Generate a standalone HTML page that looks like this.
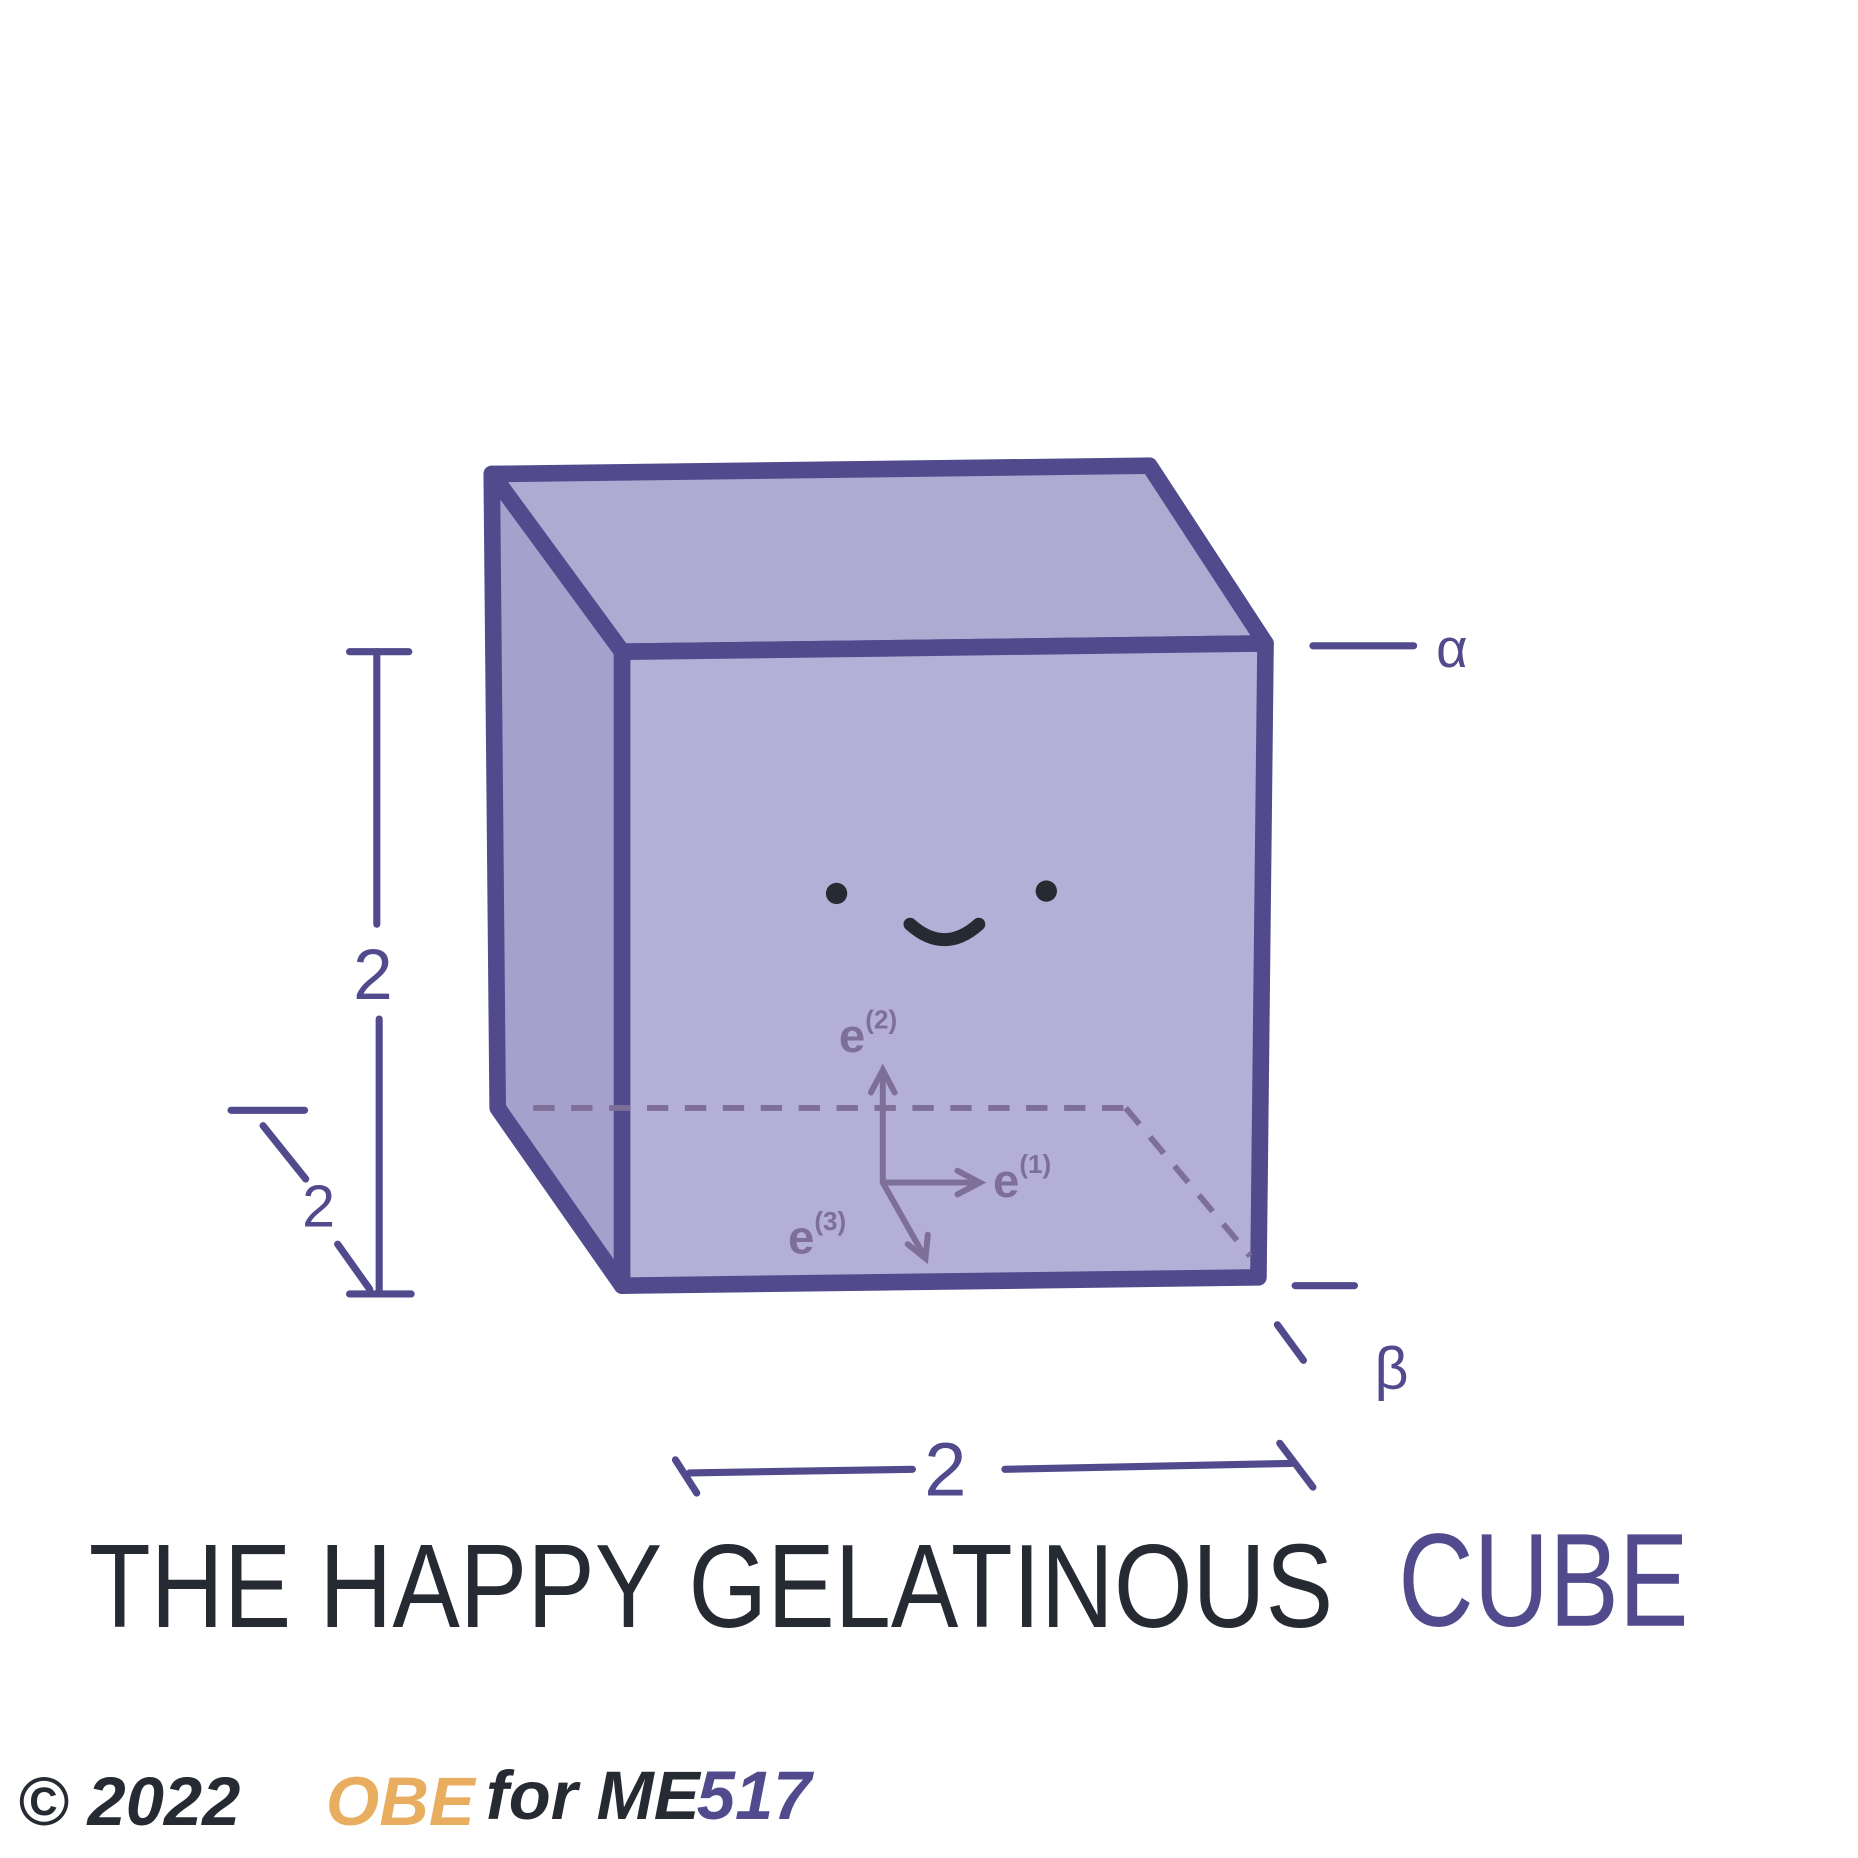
<!DOCTYPE html>
<html><head><meta charset="utf-8"><style>
html,body{margin:0;padding:0;background:#fff;width:1858px;height:1858px;overflow:hidden}
svg{display:block}
</style></head><body>
<svg width="1858" height="1858" viewBox="0 0 1568 1568" xmlns="http://www.w3.org/2000/svg">
<rect width="1568" height="1568" fill="#fff"/>
<g stroke="#514a8c" stroke-width="14" stroke-linejoin="round" stroke-linecap="round">
  <polygon points="415,400 970,393 1068,543 525,550" fill="#aeaad2"/>
  <polygon points="415,400 525,550 525,1085 420,935" fill="#a5a1cc"/>
  <polygon points="525,550 1068,543 1062,1078 525,1085" fill="#b3afd6"/>
</g>
<g stroke="#7d6f98" stroke-width="5" stroke-dasharray="18,14" fill="none">
  <line x1="450" y1="935" x2="950" y2="935"/>
  <line x1="950" y1="935" x2="1055" y2="1060"/>
</g>
<g fill="#262b33">
  <circle cx="706" cy="754" r="9"/>
  <circle cx="883" cy="752" r="9"/>
  <path d="M768,780 Q797,806 826,780" stroke="#262b33" stroke-width="11" fill="none" stroke-linecap="round"/>
</g>
<g stroke="#7d6f98" stroke-width="5" fill="none" stroke-linecap="round">
  <line x1="745" y1="998" x2="745" y2="905"/><path d="M735,922 L745,903 L755,922"/>
  <line x1="745" y1="998" x2="825" y2="998"/><path d="M808,988 L827,998 L808,1008"/>
  <line x1="745" y1="998" x2="780" y2="1060"/><path d="M766,1050 L781,1062 L783,1042"/>
</g>
<g font-family="Liberation Sans, sans-serif" fill="#7d6f98" font-weight="bold">
  <text x="708" y="888" font-size="40">e<tspan font-size="22" dy="-20">(2)</tspan></text>
  <text x="838" y="1010" font-size="40">e<tspan font-size="22" dy="-20">(1)</tspan></text>
  <text x="665" y="1058" font-size="40">e<tspan font-size="22" dy="-20">(3)</tspan></text>
</g>
<g stroke="#514a8c" stroke-width="6" fill="none" stroke-linecap="round">
  <line x1="295" y1="550" x2="345" y2="550"/><line x1="318" y1="550" x2="318" y2="780"/>
  <line x1="320" y1="860" x2="320" y2="1090"/><line x1="295" y1="1092" x2="347" y2="1092"/>
  <line x1="195" y1="937" x2="257" y2="937"/><line x1="222" y1="950" x2="258" y2="995"/><line x1="285" y1="1050" x2="312" y2="1088"/>
  <line x1="1108" y1="545" x2="1193" y2="545"/>
  <line x1="1093" y1="1085" x2="1143" y2="1085"/><line x1="1078" y1="1118" x2="1100" y2="1148"/>
  <line x1="570" y1="1232" x2="588" y2="1260"/><line x1="582" y1="1243" x2="770" y2="1240"/>
  <line x1="848" y1="1240" x2="1090" y2="1235"/><line x1="1080" y1="1218" x2="1108" y2="1255"/>
</g>
<g font-family="Liberation Sans, sans-serif" fill="#514a8c">
  <text x="298" y="843" font-size="60">2</text>
  <text x="255" y="1035" font-size="50">2</text>
  <text x="780" y="1262" font-size="64">2</text>
  <text x="1212" y="563" font-size="46">α</text>
  <text x="1160" y="1172" font-size="50">β</text>
</g>
<text font-family="Liberation Sans, sans-serif" font-size="100" fill="#262b33" x="75" y="1373" textLength="1050" lengthAdjust="spacingAndGlyphs">THE HAPPY GELATINOUS</text>
<text font-family="Liberation Sans, sans-serif" font-size="112" fill="#514a8c" x="1180" y="1372" textLength="245" lengthAdjust="spacingAndGlyphs">CUBE</text>
<g font-family="Liberation Sans, sans-serif" font-weight="bold" font-style="italic" font-size="58">
  <text x="15" y="1540" fill="#262b33">© 2022</text>
  <text x="275" y="1540" fill="#e8ad5e">OBE</text>
  <text x="410" y="1535" fill="#262b33">for ME</text>
  <text x="588" y="1535" fill="#514a8c">517</text>
</g>
</svg>
</body></html>
